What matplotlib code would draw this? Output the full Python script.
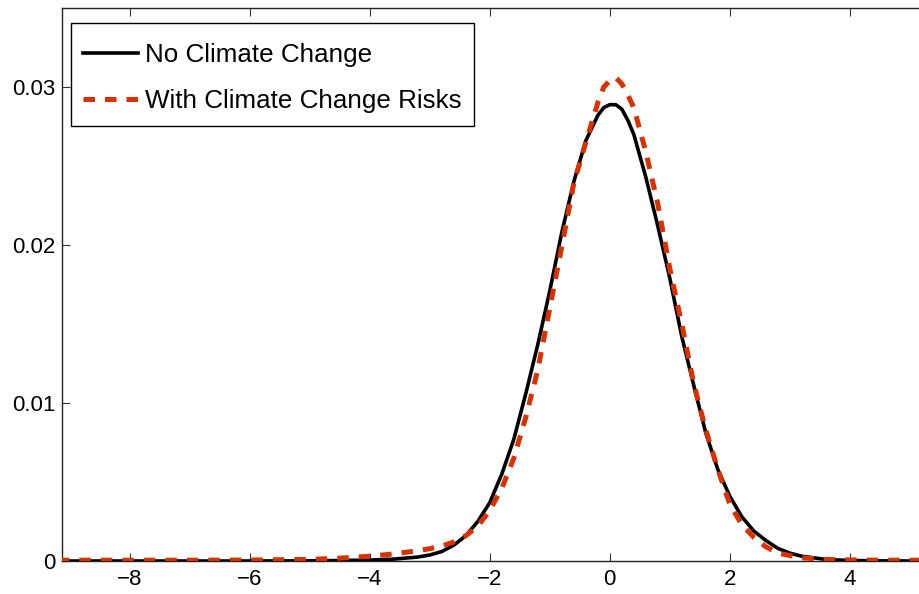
import matplotlib
matplotlib.use("Agg")
import matplotlib.pyplot as plt
from matplotlib.patches import Rectangle

plt.rcParams['font.family'] = ['Liberation Sans', 'DejaVu Sans']

# ---- data ----
x_vals = [-9.2, -8, -7, -6, -5, -4.5, -4, -3.6, -3.2, -3.0,
          -2.8, -2.6, -2.4, -2.2, -2.0, -1.8, -1.6, -1.4, -1.2, -1.0,
          -0.8, -0.6, -0.4, -0.2, -0.1, 0.0, 0.1, 0.2, 0.3, 0.4,
          0.6, 0.8, 1.0, 1.2, 1.4, 1.6, 1.8, 2.0, 2.2, 2.4,
          2.6, 2.8, 3.0, 3.2, 3.4, 3.6, 4.0, 4.5, 5.0, 6.0]

no_climate = [0, 0, 0, 0, 0.00001, 0.00003, 0.00006, 0.00012, 0.00025, 0.00038,
              0.0006, 0.0010, 0.0016, 0.0025, 0.0037, 0.0055, 0.0077, 0.0106, 0.0137, 0.0171,
              0.0208, 0.0240, 0.0266, 0.0282, 0.0287, 0.02888, 0.02888, 0.0286, 0.0279, 0.0270,
              0.0243, 0.0212, 0.0179, 0.0142, 0.0111, 0.0081, 0.0058, 0.0041, 0.0028, 0.0019,
              0.0013, 0.0008, 0.0005, 0.0003, 0.0002, 0.0001, 0.00003, 0.00001, 0, 0]

with_climate = [0.00005, 0.00005, 0.00005, 0.00006, 0.0001, 0.00018, 0.0003, 0.00045, 0.00065, 0.00078,
                0.00095, 0.0012, 0.0016, 0.0022, 0.0032, 0.0046, 0.0065, 0.0091, 0.0121, 0.0160,
                0.0199, 0.0239, 0.0265, 0.0290, 0.0300, 0.0304, 0.0306, 0.0302, 0.0295, 0.0287,
                0.0259, 0.0226, 0.0185, 0.0150, 0.0112, 0.0083, 0.0058, 0.0036, 0.0023, 0.0015,
                0.0009, 0.0005, 0.00035, 0.0002, 0.00015, 0.0001, 0.00007, 0.00005, 0.00005, 0.00005]

series_labels = ["No Climate Change", "With Climate Change Risks"]
x_ticks = [-8, -6, -4, -2, 0, 2, 4]
x_tick_labels = ["\u22128", "\u22126", "\u22124", "\u22122", "0", "2", "4"]
y_ticks = [0, 0.01, 0.02, 0.03]
y_tick_labels = ["0", "0.01", "0.02", "0.03"]

# ---- figure ----
fig = plt.figure(figsize=(9.2, 5.94), dpi=100)
AX_W, AX_H = 907.8, 553.0
ax = fig.add_axes([62/920, 33/594, AX_W/920, AX_H/594])

ax.plot(x_vals, no_climate, color='black', lw=2.6, label=series_labels[0], zorder=3)
ax.plot(x_vals, with_climate, color='#d93200', lw=3.6, ls=(0, (2.3, 2.0)),
        dash_capstyle='butt', label=series_labels[1], zorder=4)

ax.set_xlim(-9.13, 6.0)
ax.set_ylim(0, 0.035)
ax.set_xticks(x_ticks)
ax.set_xticklabels(x_tick_labels)
ax.set_yticks(y_ticks)
ax.set_yticklabels(y_tick_labels)

ax.tick_params(axis='both', direction='in', length=6, width=0.8, labelsize=16,
               top=True, right=True, colors='#333333', labelcolor='black')
ax.tick_params(axis='x', pad=6)
ax.tick_params(axis='y', pad=5)
for s in ax.spines.values():
    s.set_linewidth(1.0)
    s.set_color('#222222')

# legend frame (drawn as a box in axes coordinates)
frame = Rectangle((9/AX_W, (553 - 118)/AX_H), 403/AX_W, 103/AX_H,
                  transform=ax.transAxes, facecolor='white', edgecolor='black',
                  lw=1.0, zorder=5)
ax.add_patch(frame)

leg = ax.legend(loc='upper left', bbox_to_anchor=(21/AX_W, (553 - 34.6)/AX_H),
                borderaxespad=0, fontsize=18.7, handlelength=2.1, handletextpad=0.3,
                labelspacing=0.85, borderpad=0.0, frameon=False)
leg.set_zorder(6)

fig.savefig("out.png", dpi=100)
